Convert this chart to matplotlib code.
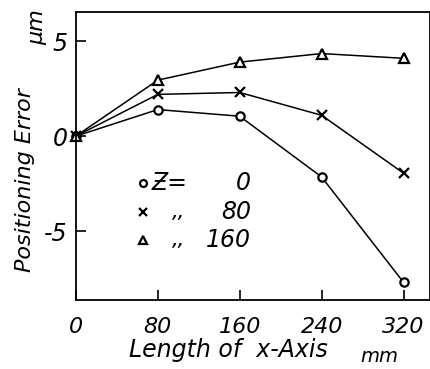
import matplotlib
matplotlib.use('Agg')
import matplotlib.pyplot as plt

# Data (x length in mm, positioning error in um)
x_len = [0, 80, 160, 240, 320]
err_z0 = [0, 1.4, 1.05, -2.15, -7.7]
err_z80 = [0, 2.2, 2.3, 1.1, -1.95]
err_z160 = [0, 2.95, 3.9, 4.35, 4.1]

x_ticks = [0, 80, 160, 240, 320]
y_ticks = [-5, 0, 5]

plt.rcParams['font.family'] = ['DejaVu Sans']

fig = plt.figure(figsize=(4.31, 3.69), dpi=100)
ax = fig.add_axes([0.176, 0.187, 0.822, 0.780])

common = dict(color='black', linewidth=1.1, markerfacecolor='white',
              markeredgecolor='black', markeredgewidth=1.6, clip_on=False)
ax.plot(x_len, err_z0, marker='o', markersize=6, **common)
ax.plot(x_len, err_z80, marker='x', markersize=7, **common)
ax.plot(x_len, err_z160, marker='^', markersize=7, **common)

ax.set_xlim(0, 346)
ax.set_ylim(-8.63, 6.53)
ax.set_xticks(x_ticks)
ax.set_yticks(y_ticks)
ax.set_xticklabels([str(v) for v in x_ticks], fontsize=16, style='italic')
ax.set_yticklabels(['-5', '0', '5'], fontsize=17, style='italic')
ax.tick_params(axis='x', direction='in', length=7, width=1.2, pad=12)
ax.tick_params(axis='y', direction='in', length=7, width=1.2, pad=6)
for s in ax.spines.values():
    s.set_linewidth(1.3)

# axis titles and units
fig.text(0.058, 0.512, 'Positioning Error', rotation=90, fontsize=16,
         style='italic', ha='center', va='center')
fig.text(0.086, 0.927, 'µm', rotation=90, fontsize=16, style='italic',
         ha='center', va='center')
fig.text(0.529, 0.051, 'Length of  x-Axis', fontsize=17, style='italic',
         ha='center', va='center')
fig.text(0.879, 0.033, 'mm', fontsize=14, style='italic', ha='center', va='center')

# Legend drawn as text block
leg_marker_x = 66
leg_rows = [(-2.47, 'o', 5, 'Ƶ=', '0'), (-3.99, 'x', 6, ',,', '80'), (-5.47, '^', 6, ',,', '160')]
for y, m, ms, sym, num in leg_rows:
    ax.plot([leg_marker_x], [y], marker=m, markersize=ms, color='black',
            markerfacecolor='white', markeredgewidth=1.6, linestyle='none')
    if sym == ',,':
        ax.text(94, y, sym, fontsize=15, style='italic', va='center', ha='left')
    else:
        ax.text(leg_marker_x + 8, y, sym, fontsize=17, style='italic', va='center', ha='left')
    ax.text(171, y, num, fontsize=17, style='italic', va='center', ha='right')

fig.savefig('out.png', dpi=100)
